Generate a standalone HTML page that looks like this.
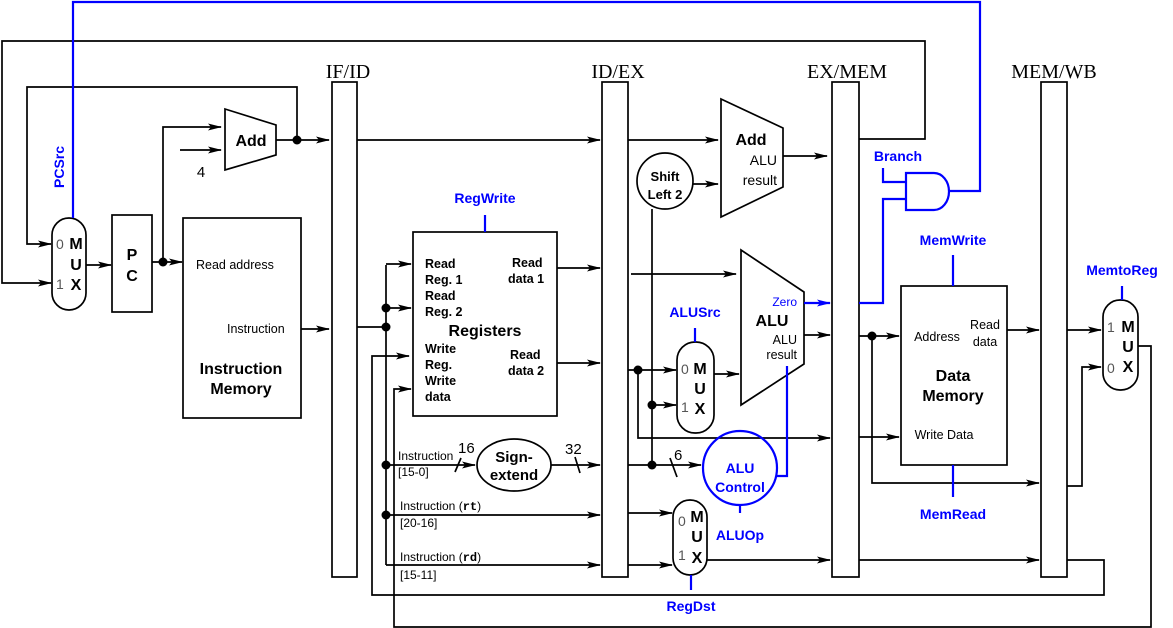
<!DOCTYPE html>
<html><head><meta charset="utf-8"><style>
html,body{margin:0;padding:0;background:#fff;}
svg{display:block;}
text{font-family:"Liberation Sans",sans-serif;}
.b{font-weight:bold;}
.s{font-family:"Liberation Serif",serif;font-size:20px;}
.bl{fill:#0000ff;font-weight:bold;font-size:14px;}
</style></head><body>
<svg width="1173" height="628" viewBox="0 0 1173 628" xmlns="http://www.w3.org/2000/svg">
<defs>
<marker id="a" markerWidth="14" markerHeight="8" refX="13" refY="4" orient="auto" markerUnits="userSpaceOnUse"><path d="M0,0.5 L14,4 L0,7.5 L3,4z" fill="#000"/></marker>
<marker id="ab" markerWidth="14" markerHeight="8" refX="13" refY="4" orient="auto" markerUnits="userSpaceOnUse"><path d="M0,0.5 L14,4 L0,7.5 L3,4z" fill="#00f"/></marker>
</defs>
<g fill="none" stroke="#000" stroke-width="1.7">
<rect x="332" y="82" width="25" height="495" fill="#fff"/>
<rect x="602" y="82" width="26" height="495" fill="#fff"/>
<rect x="832" y="82" width="27" height="495" fill="#fff"/>
<rect x="1041" y="82" width="26" height="495" fill="#fff"/>
<polyline points="859,139 925,139 925,41 2,41 2,283 51,283" marker-end="url(#a)"/>
<polyline points="297,140 297,87 27,87 27,244 51,244" marker-end="url(#a)"/>
<rect x="52" y="218" width="34" height="92" rx="17"/>
<line x1="86" y1="265" x2="111" y2="265" marker-end="url(#a)"/>
<rect x="112" y="215" width="40" height="97"/>
<line x1="152" y1="262" x2="182" y2="262" marker-end="url(#a)"/>
<polyline points="163,262 163,127 221,127" marker-end="url(#a)"/>
<line x1="180" y1="150" x2="221" y2="150" marker-end="url(#a)"/>
<polygon points="225,109 276,125 276,155 225,170"/>
<line x1="276" y1="140" x2="329" y2="140" marker-end="url(#a)"/>
<rect x="183" y="218" width="118" height="200"/>
<line x1="301" y1="329" x2="329" y2="329" marker-end="url(#a)"/>
<line x1="357" y1="140" x2="600" y2="140" marker-end="url(#a)"/>
<polyline points="357,327 386,327"/>
<line x1="386" y1="265" x2="386" y2="565"/>
<line x1="386" y1="264" x2="411" y2="264" marker-end="url(#a)"/>
<line x1="386" y1="308" x2="411" y2="308" marker-end="url(#a)"/>
<line x1="386" y1="465" x2="475" y2="465" marker-end="url(#a)"/>
<line x1="455" y1="472" x2="461" y2="458" />
<line x1="386" y1="515" x2="600" y2="515" marker-end="url(#a)"/>
<line x1="386" y1="565" x2="600" y2="565" marker-end="url(#a)"/>
<polyline points="1067,560 1104,560 1104,595 372,595 372,356 409,356" marker-end="url(#a)"/>
<polyline points="1138,346 1151,346 1151,627 394,627 394,389 411,389" marker-end="url(#a)"/>
<rect x="413" y="232" width="144" height="184"/>
<line x1="557" y1="268" x2="600" y2="268" marker-end="url(#a)"/>
<line x1="557" y1="363" x2="600" y2="363" marker-end="url(#a)"/>
<ellipse cx="514" cy="465" rx="37" ry="26"/>
<line x1="551" y1="465" x2="600" y2="465" marker-end="url(#a)"/>
<line x1="575" y1="457" x2="580" y2="473"/>
<line x1="628" y1="140" x2="718" y2="140" marker-end="url(#a)"/>
<polygon points="721,99 783,128 783,187 721,217"/>
<line x1="783" y1="156" x2="827" y2="156" marker-end="url(#a)"/>
<circle cx="665" cy="181" r="28"/>
<line x1="693" y1="184" x2="718" y2="184" marker-end="url(#a)"/>
<line x1="652" y1="209" x2="652" y2="465"/>
<line x1="631" y1="274" x2="736" y2="274" marker-end="url(#a)"/>
<line x1="628" y1="370" x2="676" y2="370" marker-end="url(#a)"/>
<polyline points="638,370 638,438 830,438" marker-end="url(#a)"/>
<line x1="652" y1="405" x2="676" y2="405" marker-end="url(#a)"/>
<line x1="628" y1="465" x2="701" y2="465" marker-end="url(#a)"/>
<line x1="670" y1="458" x2="677" y2="477"/>
<rect x="677" y="342" width="37" height="91" rx="18"/>
<line x1="714" y1="374" x2="739" y2="374" marker-end="url(#a)"/>
<polygon points="741,250 804,292 804,364 741,405"/>
<line x1="804" y1="335" x2="830" y2="335" marker-end="url(#a)"/>
<rect x="673" y="500" width="34" height="75" rx="17"/>
<line x1="628" y1="513" x2="672" y2="513" marker-end="url(#a)"/>
<line x1="628" y1="565" x2="672" y2="565" marker-end="url(#a)"/>
<line x1="707" y1="560" x2="830" y2="560" marker-end="url(#a)"/>
<line x1="859" y1="336" x2="899" y2="336" marker-end="url(#a)"/>
<polyline points="872,336 872,483 1039,483" marker-end="url(#a)"/>
<line x1="859" y1="437" x2="899" y2="437" marker-end="url(#a)"/>
<rect x="901" y="286" width="106" height="179"/>
<line x1="1007" y1="330" x2="1039" y2="330" marker-end="url(#a)"/>
<line x1="859" y1="560" x2="1039" y2="560" marker-end="url(#a)"/>
<line x1="1067" y1="330" x2="1101" y2="330" marker-end="url(#a)"/>
<polyline points="1067,486 1082,486 1082,367 1101,367" marker-end="url(#a)"/>
<rect x="1103" y="300" width="35" height="90" rx="17"/>
</g>
<g fill="#000">
<circle cx="297" cy="140" r="4.5"/><circle cx="163" cy="262" r="4.5"/>
<circle cx="386" cy="327" r="4.5"/><circle cx="386" cy="308" r="4.5"/>
<circle cx="386" cy="465" r="4.5"/><circle cx="386" cy="515" r="4.5"/>
<circle cx="638" cy="370" r="4.5"/><circle cx="652" cy="405" r="4.5"/>
<circle cx="652" cy="465" r="4.5"/><circle cx="872" cy="336" r="4.5"/>
</g>
<g fill="none" stroke="#0000ff" stroke-width="2.2">
<polyline points="73,218 73,2 980,2 980,191 949,191"/>
<polyline points="804,303 830,303" marker-end="url(#ab)"/>
<polyline points="859,303 883,303 883,199 906,199"/>
<polyline points="883,168 883,182 906,182"/>
<path d="M906,173 L934,173 A15,18.5 0 0 1 934,210 L906,210 Z"/>
<line x1="485" y1="215" x2="485" y2="232"/>
<line x1="695" y1="328" x2="695" y2="342"/>
<polyline points="787,366 787,476 777,476"/>
<circle cx="740" cy="468" r="37"/>
<line x1="740" y1="505" x2="740" y2="513"/>
<line x1="691" y1="575" x2="691" y2="590"/>
<line x1="953" y1="255" x2="953" y2="286"/>
<line x1="953" y1="465" x2="953" y2="497"/>
<line x1="1122" y1="286" x2="1122" y2="300"/>
</g>
<g font-size="14">
<text class="s" x="348" y="78" text-anchor="middle">IF/ID</text>
<text class="s" x="618" y="78" text-anchor="middle">ID/EX</text>
<text class="s" x="847" y="78" text-anchor="middle">EX/MEM</text>
<text class="s" x="1054" y="78" text-anchor="middle">MEM/WB</text>
<text class="bl" x="64" y="188" transform="rotate(-90 64 188)" font-size="14">PCSrc</text>
<text x="56" y="249" font-family="Liberation Mono" fill="#555" font-size="14">0</text>
<text x="56" y="289" font-family="Liberation Mono" fill="#555" font-size="14">1</text>
<text class="b" x="76" y="249" text-anchor="middle" font-size="16">M</text>
<text class="b" x="76" y="270" text-anchor="middle" font-size="16">U</text>
<text class="b" x="76" y="290" text-anchor="middle" font-size="16">X</text>
<text class="b" x="132" y="260" text-anchor="middle" font-size="16">P</text>
<text class="b" x="132" y="281" text-anchor="middle" font-size="16">C</text>
<text x="201" y="177" text-anchor="middle" font-size="15">4</text>
<text class="b" x="251" y="146" text-anchor="middle" font-size="16">Add</text>
<text x="196" y="269" font-size="12.5">Read  address</text>
<text x="227" y="333" font-size="12.5">Instruction</text>
<text class="b" x="241" y="374" text-anchor="middle" font-size="16">Instruction</text>
<text class="b" x="241" y="394" text-anchor="middle" font-size="16">Memory</text>
<text class="bl" x="485" y="203" text-anchor="middle">RegWrite</text>
<g class="b" font-size="12.5">
<text x="425" y="268">Read</text><text x="425" y="284">Reg. 1</text>
<text x="425" y="300">Read</text><text x="425" y="316">Reg. 2</text>
<text x="425" y="353">Write</text><text x="425" y="369">Reg.</text>
<text x="425" y="385">Write</text><text x="425" y="401">data</text>
<text x="512" y="267">Read</text><text x="508" y="283">data 1</text>
<text x="510" y="359">Read</text><text x="508" y="375">data 2</text>
</g>
<text class="b" x="485" y="336" text-anchor="middle" font-size="16">Registers</text>
<text x="398" y="460" font-size="12">Instruction</text>
<text x="398" y="476" font-size="12">[15-0]</text>
<text x="458" y="453" font-size="15">16</text>
<text x="565" y="454" font-size="15">32</text>
<text class="b" x="514" y="462" text-anchor="middle" font-size="15">Sign-</text>
<text class="b" x="514" y="480" text-anchor="middle" font-size="15">extend</text>
<text x="400" y="510" font-size="12">Instruction (<tspan font-family="Liberation Mono" font-weight="bold">rt</tspan>)</text>
<text x="400" y="527" font-size="12">[20-16]</text>
<text x="400" y="561" font-size="12">Instruction (<tspan font-family="Liberation Mono" font-weight="bold">rd</tspan>)</text>
<text x="400" y="579" font-size="12">[15-11]</text>
<text class="b" x="665" y="181" text-anchor="middle" font-size="13">Shift</text>
<text class="b" x="665" y="199" text-anchor="middle" font-size="13">Left 2</text>
<text class="b" x="751" y="145" text-anchor="middle" font-size="16">Add</text>
<text x="777" y="165" text-anchor="end" font-size="14">ALU</text>
<text x="777" y="185" text-anchor="end" font-size="14">result</text>
<text x="674" y="460" font-size="15">6</text>
<text class="bl" x="695" y="317" text-anchor="middle">ALUSrc</text>
<text x="681" y="374" font-family="Liberation Mono" fill="#555" font-size="14">0</text>
<text x="681" y="412" font-family="Liberation Mono" fill="#555" font-size="14">1</text>
<text class="b" x="700" y="374" text-anchor="middle" font-size="16">M</text>
<text class="b" x="700" y="394" text-anchor="middle" font-size="16">U</text>
<text class="b" x="700" y="414" text-anchor="middle" font-size="16">X</text>
<text x="797" y="306" text-anchor="end" font-size="12" fill="#00f">Zero</text>
<text class="b" x="772" y="326" text-anchor="middle" font-size="16">ALU</text>
<text x="797" y="344" text-anchor="end" font-size="12.5">ALU</text>
<text x="797" y="359" text-anchor="end" font-size="12.5">result</text>
<text class="bl" x="740" y="473" text-anchor="middle">ALU</text>
<text class="bl" x="740" y="492" text-anchor="middle">Control</text>
<text class="bl" x="740" y="540" text-anchor="middle">ALUOp</text>
<text x="678" y="526" font-family="Liberation Mono" fill="#555" font-size="14">0</text>
<text x="678" y="560" font-family="Liberation Mono" fill="#555" font-size="14">1</text>
<text class="b" x="697" y="522" text-anchor="middle" font-size="16">M</text>
<text class="b" x="697" y="542" text-anchor="middle" font-size="16">U</text>
<text class="b" x="697" y="563" text-anchor="middle" font-size="16">X</text>
<text class="bl" x="691" y="611" text-anchor="middle">RegDst</text>
<text class="bl" x="898" y="161" text-anchor="middle">Branch</text>
<text class="bl" x="953" y="245" text-anchor="middle">MemWrite</text>
<text class="bl" x="953" y="519" text-anchor="middle">MemRead</text>
<text x="937" y="341" text-anchor="middle" font-size="12.5">Address</text>
<text x="985" y="329" text-anchor="middle" font-size="12.5">Read</text>
<text x="985" y="346" text-anchor="middle" font-size="12.5">data</text>
<text class="b" x="953" y="381" text-anchor="middle" font-size="16">Data</text>
<text class="b" x="953" y="401" text-anchor="middle" font-size="16">Memory</text>
<text x="944" y="439" text-anchor="middle" font-size="12.5">Write Data</text>
<text class="bl" x="1122" y="275" text-anchor="middle">MemtoReg</text>
<text x="1107" y="332" font-family="Liberation Mono" fill="#555" font-size="14">1</text>
<text x="1107" y="373" font-family="Liberation Mono" fill="#555" font-size="14">0</text>
<text class="b" x="1128" y="332" text-anchor="middle" font-size="16">M</text>
<text class="b" x="1128" y="352" text-anchor="middle" font-size="16">U</text>
<text class="b" x="1128" y="372" text-anchor="middle" font-size="16">X</text>
</g>
</svg>
</body></html>
